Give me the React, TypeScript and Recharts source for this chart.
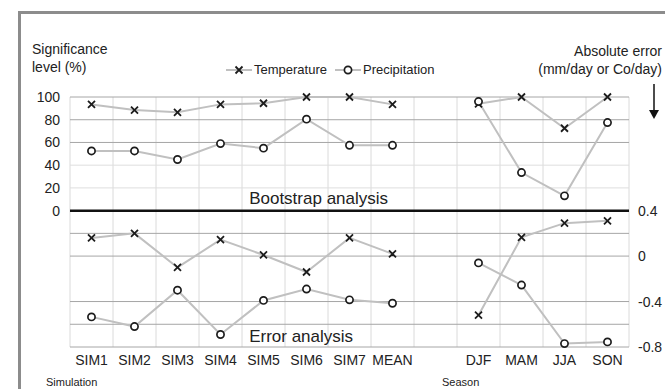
import { LineChart, Line, XAxis, YAxis, ReferenceLine, ReferenceArea } from "recharts";

// category slots (empty slot separates simulations from seasons)
const categories = ["SIM1", "SIM2", "SIM3", "SIM4", "SIM5", "SIM6", "SIM7", "MEAN", "", "DJF", "MAM", "JJA", "SON"];

// bootstrap analysis, significance level (%)
const tempSignificance = [93.5, 88.5, 86.5, 93.5, 94.5, 100, 100, 93.5, null, 94, 100, 72.5, 100];
const precSignificance = [52.5, 52.5, 45, 59, 55, 80.5, 57.5, 57.5, null, 96, 33.5, 13, 77.5];

// error analysis, absolute error
const tempError = [0.16, 0.2, -0.1, 0.145, 0.01, -0.14, 0.16, 0.02, null, -0.52, 0.165, 0.29, 0.31];
const precError = [-0.535, -0.62, -0.3, -0.69, -0.39, -0.29, -0.385, -0.415, null, -0.06, -0.255, -0.77, -0.755];

const leftTicks = [0, 20, 40, 60, 80, 100];
const rightTicks = [-0.8, -0.4, 0, 0.4];
const darkLeftGrid = [60, 80, 100];
const lightLeftGrid = [20, 40];
const darkRightGrid = [-0.8, -0.6, -0.4, 0, 0.2];

const data = categories.map((label, i) => ({
  pos: i + 0.5,
  label,
  tempSig: tempSignificance[i],
  precSig: precSignificance[i],
  tempErr: tempError[i],
  precErr: precError[i]
}));

const tickPositions = data.filter((d) => d.label !== "").map((d) => d.pos);
const boundaries = categories.map((_, i) => i).concat([categories.length]);

const FONT = "'Liberation Sans', Arial, sans-serif";
const LINE_COLOR = "#c0c0c0";
const MARK = "#1c1c1c";

function CrossDot(props: any) {
  const { cx, cy } = props;
  if (cx == null || cy == null || props.value == null) return <g />;
  const s = 3.5;
  return (
    <path
      d={`M${cx - s},${cy - s}L${cx + s},${cy + s}M${cx + s},${cy - s}L${cx - s},${cy + s}`}
      stroke={MARK}
      strokeWidth={1.8}
      fill="none"
    />
  );
}

function CircleDot(props: any) {
  const { cx, cy } = props;
  if (cx == null || cy == null || props.value == null) return <g />;
  return <circle cx={cx} cy={cy} r={3.6} stroke={MARK} strokeWidth={1.7} fill="#fff" />;
}

function LegendItem({ kind, text }: { kind: "x" | "o"; text: string }) {
  return (
    <span style={{ display: "inline-flex", alignItems: "center", marginRight: 8 }}>
      <svg width={26} height={12}>
        <line x1={0} y1={6} x2={26} y2={6} stroke={LINE_COLOR} strokeWidth={2} />
        {kind === "x" ? (
          <path d="M9.5,2.5L16.5,9.5M16.5,2.5L9.5,9.5" stroke={MARK} strokeWidth={1.8} />
        ) : (
          <circle cx={13} cy={6} r={3.6} stroke={MARK} strokeWidth={1.7} fill="#fff" />
        )}
      </svg>
      <span style={{ marginLeft: 2 }}>{text}</span>
    </span>
  );
}

export default function App() {
  const textStyle = { position: "absolute" as const, fontFamily: FONT, color: "#222", lineHeight: "18px" };
  return (
    <div style={{ position: "absolute", left: 0, top: 0, width: 665, height: 389, overflow: "hidden", background: "#fff" }}>
      <div style={{ position: "absolute", left: 18, top: 11, width: 700, height: 420, border: "3px solid #8c8c8c" }} />
      <div style={{ position: "absolute", left: 0, top: 0 }}>
        <LineChart width={665} height={389} data={data} margin={{ top: 97, right: 0, bottom: 12, left: 0 }}>
          <XAxis
            type="number"
            dataKey="pos"
            domain={[0, categories.length]}
            ticks={tickPositions}
            interval={0}
            tickFormatter={(v: number) => categories[Math.floor(v)]}
            axisLine={false}
            tickLine={false}
            height={30}
            tick={{ fontSize: 14, fill: "#222", fontFamily: FONT }}
          />
          <YAxis
            yAxisId="left"
            domain={[-120, 100]}
            ticks={leftTicks}
            axisLine={false}
            tickLine={false}
            width={70}
            tickMargin={4}
            tick={{ fontSize: 14, fill: "#222", fontFamily: FONT }}
          />
          <YAxis
            yAxisId="right"
            orientation="right"
            domain={[-0.8, 1.4]}
            ticks={rightTicks}
            axisLine={false}
            tickLine={false}
            width={36}
            tickMargin={3}
            tickFormatter={(v: number) => String(v)}
            tick={{ fontSize: 14, fill: "#222", fontFamily: FONT }}
          />
          {boundaries.map((b) => (
            <ReferenceLine key={"v" + b} x={b} yAxisId="left" stroke="#dadada" strokeWidth={1} />
          ))}
          {lightLeftGrid.map((v) => (
            <ReferenceLine key={"ll" + v} y={v} yAxisId="left" stroke="#dedede" strokeWidth={1} />
          ))}
          {darkLeftGrid.map((v) => (
            <ReferenceLine key={"dl" + v} y={v} yAxisId="left" stroke="#a6a6a6" strokeWidth={1} />
          ))}
          {darkRightGrid.map((v) => (
            <ReferenceLine key={"dr" + v} y={v} yAxisId="right" stroke="#a6a6a6" strokeWidth={1} />
          ))}
          <ReferenceLine y={0} yAxisId="left" stroke="#111" strokeWidth={2.5} />
          <ReferenceArea
            x1={4.05}
            x2={7.6}
            y1={2}
            y2={20}
            yAxisId="left"
            fill="#fff"
            fillOpacity={1}
            stroke="none"
            label={{ value: "Bootstrap analysis", position: "insideLeft", fontSize: 17, fill: "#222", fontFamily: FONT }}
          />
          <ReferenceArea
            x1={4.05}
            x2={6.8}
            y1={-119}
            y2={-101}
            yAxisId="left"
            fill="#fff"
            fillOpacity={1}
            stroke="none"
            label={{ value: "Error analysis", position: "insideLeft", fontSize: 17, fill: "#222", fontFamily: FONT }}
          />
          <Line yAxisId="left" dataKey="tempSig" stroke={LINE_COLOR} strokeWidth={2} dot={<CrossDot />} isAnimationActive={false} />
          <Line yAxisId="left" dataKey="precSig" stroke={LINE_COLOR} strokeWidth={2} dot={<CircleDot />} isAnimationActive={false} />
          <Line yAxisId="right" dataKey="tempErr" stroke={LINE_COLOR} strokeWidth={2} dot={<CrossDot />} isAnimationActive={false} />
          <Line yAxisId="right" dataKey="precErr" stroke={LINE_COLOR} strokeWidth={2} dot={<CircleDot />} isAnimationActive={false} />
        </LineChart>
      </div>

      <div style={{ ...textStyle, left: 32, top: 40, fontSize: 14 }}>
        Significance
        <br />
        level (%)
      </div>
      <div style={{ ...textStyle, right: 3, top: 42, fontSize: 14, textAlign: "right" }}>
        Absolute error
        <br />
        (mm/day or Co/day)
      </div>
      <div style={{ ...textStyle, left: 226, top: 61, fontSize: 13, display: "flex" }}>
        <LegendItem kind="x" text="Temperature" />
        <LegendItem kind="o" text="Precipitation" />
      </div>
      <svg style={{ position: "absolute", left: 646, top: 84 }} width={16} height={38}>
        <line x1={8} y1={0} x2={8} y2={28} stroke="#111" strokeWidth={1.5} />
        <path d="M3,26L13,26L8,35Z" fill="#111" />
      </svg>
      <div style={{ ...textStyle, left: 46, top: 376, fontSize: 11, lineHeight: "12px" }}>Simulation</div>
      <div style={{ ...textStyle, left: 442, top: 376, fontSize: 11, lineHeight: "12px" }}>Season</div>
    </div>
  );
}
